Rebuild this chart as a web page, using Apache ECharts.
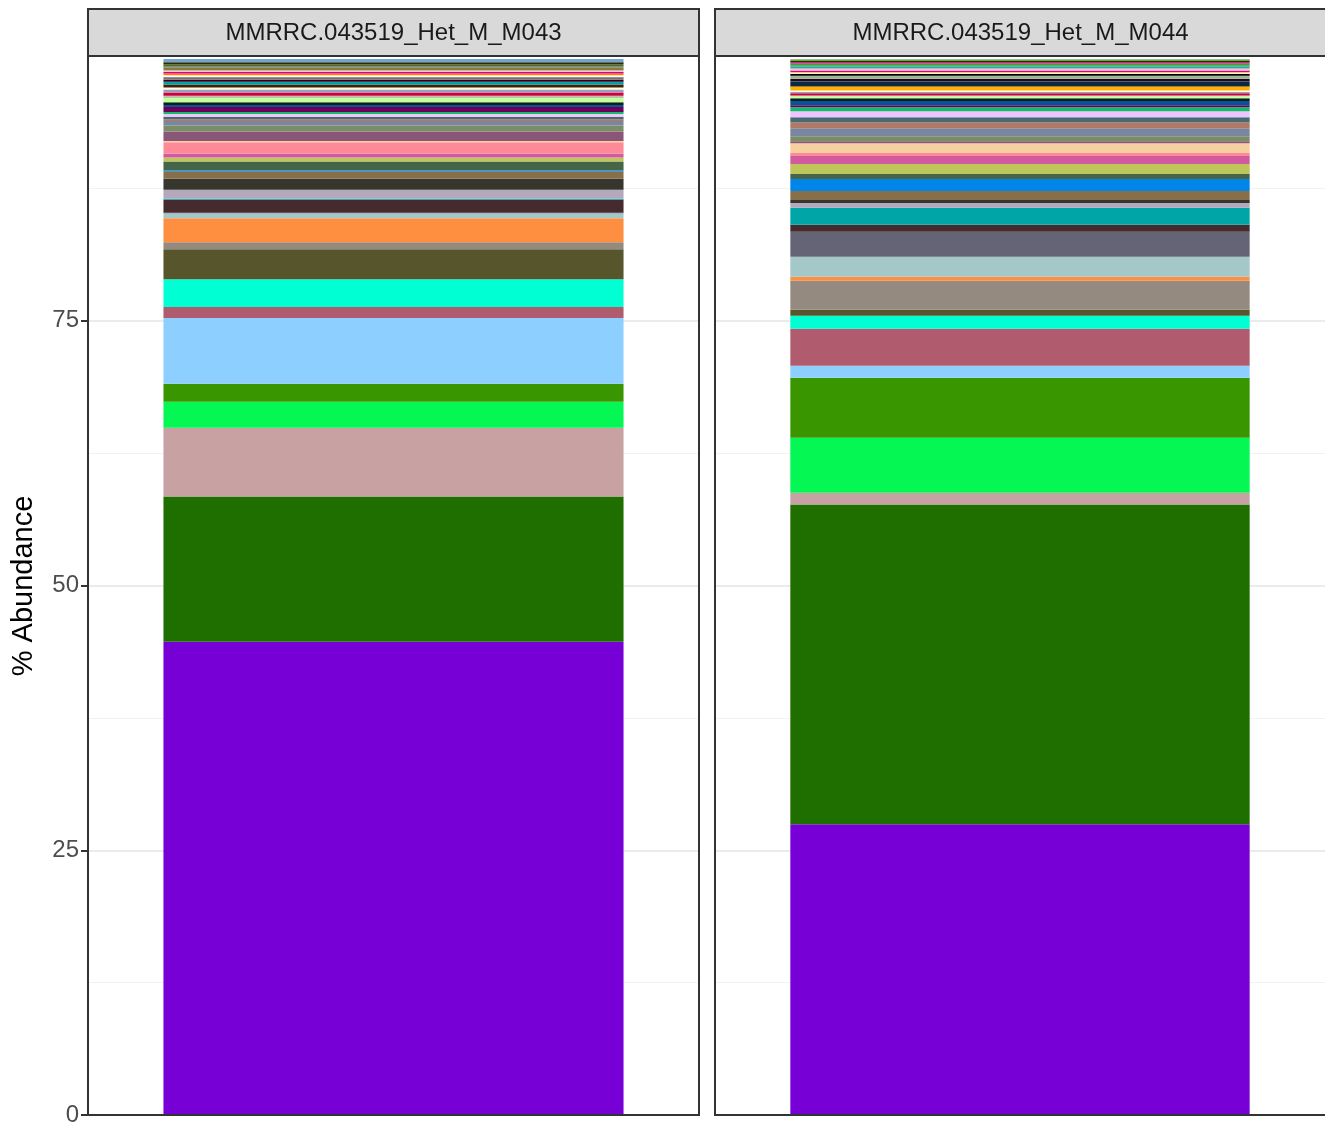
<!DOCTYPE html>
<html>
<head>
<meta charset="utf-8">
<title>% Abundance</title>
<script src="https://cdn.jsdelivr.net/npm/echarts@6/dist/echarts.min.js"></script>
<style>
  html, body { margin: 0; padding: 0; background: #fff; }
  #chart { width: 1325px; height: 1127px; }
</style>
</head>
<body>
<div id="chart"></div>
<script>
const samples = ["MMRRC.043519_Het_M_M043", "MMRRC.043519_Het_M_M044"];
const yTicks = [0, 25, 50, 75];

// one colour per taxon, bottom of the stack first
const taxonColors = [
  "#7700D7", "#1E6E00", "#C8A2A2", "#05F753", "#3A9600", "#8DD0FF", "#B05C6E", "#00FFD2", "#56552B", "#948A80",
  "#FF8F40", "#A4C8C8", "#656477", "#452B2D", "#00A5A8", "#B4A8BC", "#36362E", "#877049", "#0086E8", "#466547",
  "#BEC55A", "#D45AA0", "#FF8A97", "#F8CFA0", "#8A5677", "#7B8C67", "#7A85A0", "#B07866", "#486A72", "#EEC5FF",
  "#12BD6A", "#6D005A", "#0D4F99", "#00251A", "#C5FF9A", "#C0C0B0", "#D0003F", "#A09CC0", "#FFFFE8", "#FFB000",
  "#442200", "#0B2840", "#00A0B0", "#300018", "#9CB896", "#807070", "#000000", "#FFFFFF", "#FF8000", "#E0007F",
  "#FFC0CB", "#20B0B0", "#8B7B3A", "#3CA040", "#707070", "#C03080", "#5A6A20", "#203000", "#40A000", "#7AA0D0"
];

// % abundance per taxon, same order as the colours
const m043 = [
  44.7, 13.7, 6.5, 2.45, 1.7, 6.2, 1.04, 2.64, 2.83, 0.66,
  2.26, 0.47, 0.05, 1.23, 0.1, 0.85, 1.04, 0.66, 0.1, 0.85,
  0.38, 0.38, 1.06, 0.13, 0.88, 0.57, 0.44, 0.15, 0.25, 0.25,
  0.2, 0.47, 0.19, 0.25, 0.4, 0.22, 0.31, 0.28, 0.19, 0,
  0.28, 0, 0.25, 0.19, 0, 0.19, 0.05, 0.19, 0.16, 0.16,
  0.12, 0.03, 0.22, 0.05, 0.12, 0, 0.19, 0.19, 0, 0.3
];
const m044 = [
  27.45, 30.19, 1.13, 5.19, 5.66, 1.13, 3.5, 1.22, 0.57, 2.73,
  0.38, 1.89, 2.36, 0.66, 1.6, 0.47, 0.28, 0.85, 1.13, 0.47,
  0.94, 0.75, 0.28, 0.94, 0.19, 0.47, 0.75, 0.57, 0.47, 0.57,
  0.38, 0.19, 0.38, 0.28, 0.19, 0.06, 0.22, 0.1, 0.15, 0.38,
  0.05, 0.44, 0.03, 0.22, 0.28, 0, 0.19, 0.12, 0.05, 0.12,
  0.19, 0.22, 0.05, 0.19, 0, 0.16, 0, 0.12, 0.12, 0.03
];
const values = [m043, m044];

const panelLeft = [88, 715];
const panelWidth = 611;
const panelTop = 56;
const panelBottom = 1115;
const font = "Liberation Sans";

const chart = echarts.init(document.getElementById("chart"));

const grids = panelLeft.map(left => ({
  left: left,
  top: panelTop,
  width: panelWidth,
  height: panelBottom - panelTop,
  show: false
}));

const xAxes = samples.map((s, i) => ({
  type: "category",
  gridIndex: i,
  data: [s],
  axisLine: { show: false },
  axisTick: { show: false },
  axisLabel: { show: false },
  splitLine: { show: false }
}));

const yAxes = samples.map((s, i) => ({
  type: "value",
  gridIndex: i,
  min: 0,
  max: 100,
  interval: 25,
  axisLine: { show: false },
  axisTick: { show: i === 0, length: 7, lineStyle: { color: "#333333", width: 2 } },
  axisLabel: {
    show: i === 0,
    showMaxLabel: false,
    margin: 9,
    color: "#4D4D4D",
    fontSize: 24,
    fontFamily: font,
    formatter: v => (yTicks.includes(v) ? String(v) : "")
  },
  splitLine: { show: true, lineStyle: { color: "#EBEBEB", width: 2 } },
  minorTick: { show: false, splitNumber: 2 },
  minorSplitLine: { show: true, lineStyle: { color: "#F2F2F2", width: 1 } }
}));

const series = [];
values.forEach((vals, p) => {
  vals.forEach((v, t) => {
    series.push({
      type: "bar",
      xAxisIndex: p,
      yAxisIndex: p,
      stack: "s" + p,
      barWidth: "75.3%",
      silent: true,
      data: [v],
      itemStyle: { color: taxonColors[t] }
    });
  });
});

// facet strips, panel borders on top of everything, and the y title
const graphics = [];
samples.forEach((s, i) => {
  graphics.push({
    type: "rect",
    z: 100,
    shape: { x: panelLeft[i], y: panelTop, width: panelWidth, height: panelBottom - panelTop },
    style: { fill: null, stroke: "#333333", lineWidth: 2 }
  });
  graphics.push({
    type: "rect",
    z: 100,
    shape: { x: panelLeft[i], y: 9, width: panelWidth, height: 47 },
    style: { fill: "#D9D9D9", stroke: "#333333", lineWidth: 2 }
  });
  graphics.push({
    type: "text",
    z: 101,
    x: panelLeft[i] + panelWidth / 2,
    y: 33,
    style: {
      text: s,
      fill: "#1A1A1A",
      font: "24px " + font,
      align: "center",
      verticalAlign: "middle"
    }
  });
});
graphics.push({
  type: "text",
  x: 24,
  y: 586,
  rotation: Math.PI / 2,
  style: {
    text: "% Abundance",
    fill: "#000000",
    font: "29px " + font,
    align: "center",
    verticalAlign: "middle"
  }
});

chart.setOption({
  animation: false,
  grid: grids,
  xAxis: xAxes,
  yAxis: yAxes,
  series: series,
  graphic: graphics
});
</script>
</body>
</html>
